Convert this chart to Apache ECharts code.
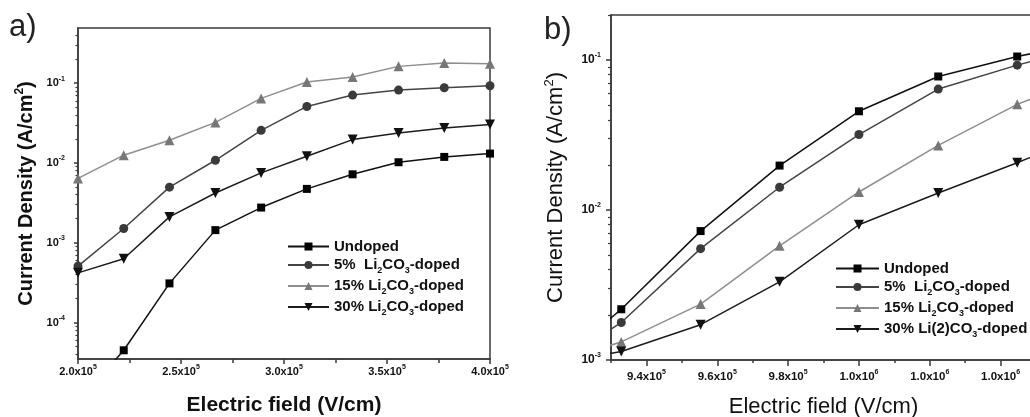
<!DOCTYPE html>
<html>
<head>
<meta charset="utf-8">
<script src="https://cdn.jsdelivr.net/npm/echarts@6.0.0/dist/echarts.min.js"></script>
<style>
  html, body { margin: 0; padding: 0; background: #fff; }
  #chart { width: 1030px; height: 417px; }
</style>
</head>
<body>
<div id="chart"></div>
<script>
// ---- panel a) data : field (V/cm) and current density (A/cm2)
var fieldA   = [2.0e5, 2.222e5, 2.444e5, 2.667e5, 2.889e5, 3.111e5, 3.333e5, 3.556e5, 3.778e5, 4.0e5];
var undopedA = [1.0e-5, 4.5e-5, 3.1e-4, 1.44e-3, 2.76e-3, 4.73e-3, 7.2e-3, 1.02e-2, 1.19e-2, 1.31e-2];
var li5A     = [5.1e-4, 1.51e-3, 4.97e-3, 1.08e-2, 2.56e-2, 5.1e-2, 7.08e-2, 8.18e-2, 8.74e-2, 9.26e-2];
var li15A    = [6.4e-3, 1.25e-2, 1.92e-2, 3.22e-2, 6.43e-2, 1.03e-1, 1.19e-1, 1.62e-1, 1.78e-1, 1.75e-1];
var li30A    = [4.2e-4, 6.3e-4, 2.11e-3, 4.2e-3, 7.5e-3, 1.21e-2, 1.96e-2, 2.37e-2, 2.74e-2, 3.02e-2];

// ---- panel b) data
var fieldB   = [0.9106e6, 0.9329e6, 0.9553e6, 0.9776e6, 1.0e6, 1.0224e6, 1.0447e6, 1.0671e6];
var undopedB = [7.9e-4, 2.18e-3, 7.24e-3, 1.98e-2, 4.56e-2, 7.78e-2, 1.057e-1, 1.36e-1];
var li5B     = [8.1e-4, 1.78e-3, 5.53e-3, 1.42e-2, 3.19e-2, 6.41e-2, 9.26e-2, 1.28e-1];
var li15B    = [9.1e-4, 1.32e-3, 2.36e-3, 5.77e-3, 1.32e-2, 2.70e-2, 5.07e-2, 8.15e-2];
var li30B    = [9.1e-4, 1.14e-3, 1.72e-3, 3.32e-3, 7.98e-3, 1.30e-2, 2.07e-2, 3.4e-2];

// ---- axis ticks
var decadesA = [-4, -3, -2, -1];
var decadesB = [-3, -2, -1];
var fieldTicksB = [0.94e6, 0.96e6, 0.98e6, 1.00e6, 1.02e6, 1.04e6];
var fieldMinorB = [0.93e6, 0.95e6, 0.97e6, 0.99e6, 1.01e6, 1.03e6, 1.05e6];

var legendNames = {
    'a0': '{n|Undoped}',
    'a1': '{n|5%  Li}{s|2}{n|CO}{s|3}{n|-doped}',
    'a2': '{n|15% Li}{s|2}{n|CO}{s|3}{n|-doped}',
    'a3': '{n|30% Li}{s|2}{n|CO}{s|3}{n|-doped}',
    'b0': '{n|Undoped}',
    'b1': '{n|5%  Li}{s|2}{n|CO}{s|3}{n|-doped}',
    'b2': '{n|15% Li}{s|2}{n|CO}{s|3}{n|-doped}',
    'b3': '{n|30% Li(2)CO}{s|3}{n|-doped}'
};

var FONT = 'Liberation Sans';
var AXIS_COLOR = '#3a3a3a';

function logPairs(xs, ys){
    var out = [];
    xs.forEach(function(x, i){ out.push([x, Math.log10(ys[i])]); });
    return out;
}
function minorLogTicks(lo, hi){
    var res = [];
    for (var n = -6; n <= 0; n++) {
        for (var k = 2; k <= 9; k++) {
            var v = Math.log10(k) + n;
            if (v >= lo && v <= hi) res.push(v);
        }
    }
    return res;
}
function sciLabel(v){
    var e = Math.floor(Math.log10(v) + 1e-9);
    var m = v / Math.pow(10, e);
    return '{n|' + m.toFixed(1) + 'x10}{e|' + e + '}';
}
function powLabel(v){
    return '{n|10}{e|' + Math.round(v) + '}';
}
function supRich(size, supSize){
    return {
        n: { fontFamily: FONT, fontWeight: 'bold', fontSize: size, color: '#111', lineHeight: size + 5, verticalAlign: 'middle' },
        e: { fontFamily: FONT, fontWeight: 'bold', fontSize: supSize, color: '#111', lineHeight: supSize, verticalAlign: 'top' }
    };
}
function titleRich(size, weight){
    return {
        t: { fontFamily: FONT, fontWeight: weight, fontSize: size, color: '#111', lineHeight: size + 4, verticalAlign: 'middle' },
        p: { fontFamily: FONT, fontWeight: weight, fontSize: Math.round(size * 0.6), color: '#111', lineHeight: Math.round(size * 0.6), verticalAlign: 'top' }
    };
}

var yMinA = Math.log10(3.5e-5), yMaxA = Math.log10(0.49);
var yMinB = -3, yMaxB = Math.log10(0.2);

var styles = [
    { symbol: 'rect', size: 8, rotate: 0, line: '#111111', mark: '#000000' },
    { symbol: 'circle', size: 9, rotate: 0, line: '#444444', mark: '#3a3a3a' },
    { symbol: 'triangle', size: 10, rotate: 0, line: '#8e8e8e', mark: '#777777' },
    { symbol: 'triangle', size: 10, rotate: 180, line: '#1c1c1c', mark: '#111111' }
];

function makeSeries(name, idx, xi, yi, xs, ys){
    var s = styles[idx];
    return {
        name: name,
        type: 'line',
        xAxisIndex: xi,
        yAxisIndex: yi,
        data: logPairs(xs, ys),
        symbol: s.symbol,
        symbolSize: s.size,
        symbolRotate: s.rotate,
        showAllSymbol: true,
        clip: true,
        animation: false,
        lineStyle: { color: s.line, width: 1.5 },
        itemStyle: { color: s.mark }
    };
}

var legendRich = {
    n: { fontFamily: FONT, fontWeight: 'bold', fontSize: 15, color: '#111', lineHeight: 20, verticalAlign: 'middle' },
    s: { fontFamily: FONT, fontWeight: 'bold', fontSize: 9, color: '#111', lineHeight: 9, verticalAlign: 'bottom' }
};

var axisLine = { show: true, lineStyle: { color: AXIS_COLOR, width: 1.5 } };

var option = {
    backgroundColor: '#fff',
    animation: false,
    title: [
        { text: 'a)', left: 9, top: 12, padding: 0, textStyle: { fontFamily: FONT, fontSize: 31, fontWeight: 'normal', color: '#222' } },
        { text: 'b)', left: 544, top: 15, padding: 0, textStyle: { fontFamily: FONT, fontSize: 31, fontWeight: 'normal', color: '#222' } }
    ],
    grid: [
        { left: 78, top: 28, width: 412, height: 331, show: true, borderColor: AXIS_COLOR, borderWidth: 1.5, outerBoundsMode: 'none' },
        { left: 611, top: 15, width: 425, height: 345, show: true, borderColor: AXIS_COLOR, borderWidth: 1.5, outerBoundsMode: 'none' }
    ],
    legend: [
        {
            data: ['a0', 'a1', 'a2', 'a3'], orient: 'vertical', left: 287, top: 239, padding: 0,
            itemWidth: 41, itemHeight: 10, itemGap: 3.5,
            formatter: function(n){ return legendNames[n]; },
            textStyle: { rich: legendRich }, selectedMode: false
        },
        {
            data: ['b0', 'b1', 'b2', 'b3'], orient: 'vertical', left: 835, top: 261, padding: 0,
            itemWidth: 43, itemHeight: 10, itemGap: 3.5,
            formatter: function(n){ return legendNames[n]; },
            textStyle: { rich: legendRich }, selectedMode: false
        }
    ],
    xAxis: [
        {
            gridIndex: 0, type: 'value', min: 2.0e5, max: 4.0e5, interval: 0.5e5,
            axisLine: axisLine,
            axisTick: { show: true, inside: false, length: 5, lineStyle: { color: AXIS_COLOR, width: 1.5 } },
            minorTick: { show: true, splitNumber: 2, length: 4, lineStyle: { color: AXIS_COLOR, width: 1.5 } },
            splitLine: { show: false },
            axisLabel: { margin: 5, formatter: sciLabel, rich: supRich(11, 7) },
            name: '{t|Electric field (V/cm)}', nameLocation: 'middle', nameGap: 34,
            nameTextStyle: { rich: titleRich(21, 'bold') }
        },
        {
            gridIndex: 1, type: 'value', min: 0.93e6, max: 1.05e6,
            axisLine: axisLine,
            axisTick: { show: true, length: 6, customValues: fieldTicksB, lineStyle: { color: AXIS_COLOR, width: 1.5 } },
            splitLine: { show: false },
            axisLabel: { margin: 9, customValues: fieldTicksB, formatter: sciLabel, rich: supRich(11.5, 7) },
            name: '{t|Electric field (V/cm)}', nameLocation: 'middle', nameGap: 34,
            nameTextStyle: { rich: titleRich(22, 'normal') }
        },
        {
            gridIndex: 1, type: 'value', min: 0.93e6, max: 1.05e6, position: 'bottom', offset: 0,
            axisLine: { show: false },
            axisTick: { show: true, length: 3, customValues: fieldMinorB, lineStyle: { color: AXIS_COLOR, width: 1.5 } },
            axisLabel: { show: false }, splitLine: { show: false }
        }
    ],
    yAxis: [
        {
            gridIndex: 0, type: 'value', min: yMinA, max: yMaxA, position: 'left',
            axisLine: axisLine,
            axisTick: { show: true, length: 4, customValues: decadesA, lineStyle: { color: AXIS_COLOR, width: 1.5 } },
            axisLabel: { margin: 13, customValues: decadesA, formatter: powLabel, rich: supRich(11, 7) },
            splitLine: { show: false },
            name: '{t|Current Density (A/cm}{p|2}{t|)}', nameLocation: 'middle', nameGap: 40,
            nameTextStyle: { rich: titleRich(20, 'bold') }
        },
        {
            gridIndex: 0, type: 'value', min: yMinA, max: yMaxA, position: 'left', offset: 0,
            axisLine: { show: false },
            axisTick: { show: true, length: 2.5, customValues: minorLogTicks(yMinA, yMaxA), lineStyle: { color: AXIS_COLOR, width: 1.2 } },
            axisLabel: { show: false }, splitLine: { show: false }
        },
        {
            gridIndex: 1, type: 'value', min: yMinB, max: yMaxB, position: 'left',
            axisLine: axisLine,
            axisTick: { show: true, length: 5, customValues: decadesB, lineStyle: { color: AXIS_COLOR, width: 1.5 } },
            axisLabel: { margin: 10, customValues: decadesB, formatter: powLabel, rich: supRich(12, 7) },
            splitLine: { show: false },
            name: '{t|Current Density (A/cm}{p|2}{t|)}', nameLocation: 'middle', nameGap: 42,
            nameTextStyle: { rich: titleRich(22, 'normal') }
        },
        {
            gridIndex: 1, type: 'value', min: yMinB, max: yMaxB, position: 'left', offset: 0,
            axisLine: { show: false },
            axisTick: { show: true, length: 3, customValues: minorLogTicks(yMinB, yMaxB), lineStyle: { color: AXIS_COLOR, width: 1.2 } },
            axisLabel: { show: false }, splitLine: { show: false }
        }
    ],
    series: [
        makeSeries('a0', 0, 0, 0, fieldA, undopedA),
        makeSeries('a1', 1, 0, 0, fieldA, li5A),
        makeSeries('a2', 2, 0, 0, fieldA, li15A),
        makeSeries('a3', 3, 0, 0, fieldA, li30A),
        makeSeries('b0', 0, 1, 2, fieldB, undopedB),
        makeSeries('b1', 1, 1, 2, fieldB, li5B),
        makeSeries('b2', 2, 1, 2, fieldB, li15B),
        makeSeries('b3', 3, 1, 2, fieldB, li30B)
    ]
};

var chart = echarts.init(document.getElementById('chart'), null, { renderer: 'canvas' });
chart.setOption(option);
</script>
</body>
</html>
